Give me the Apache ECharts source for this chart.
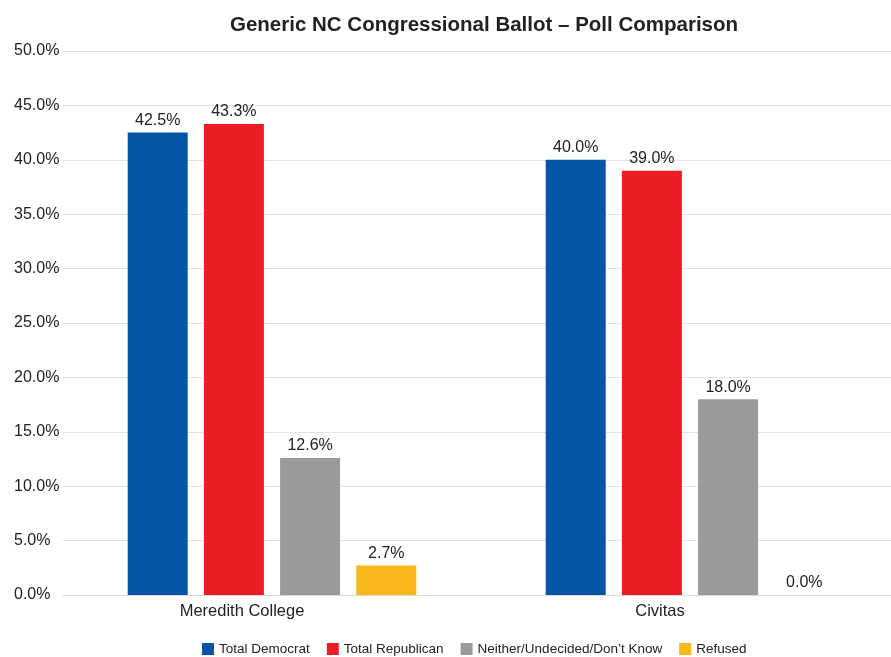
<!DOCTYPE html>
<html>
<head>
<meta charset="utf-8">
<script src="https://cdn.jsdelivr.net/npm/echarts@6/dist/echarts.min.js"></script>
<style>
  html, body { margin: 0; padding: 0; background: #fff; overflow: hidden; }
  #main { width: 900px; height: 657px; }
</style>
</head>
<body>
<div id="main"></div>
<script>
var pollsters = ['Meredith College', 'Civitas'];
var democrat = [42.5, 40.0];
var republican = [43.3, 39.0];
var undecided = [12.6, 18.0];
var refused = [2.7, 0.0];
var seriesNames = ['Total Democrat', 'Total Republican', 'Neither/Undecided/Don\u2019t Know', 'Refused'];
var colors = ['#0455a6', '#ec1c24', '#9b9a98', '#fbb81a'];

var font = 'Helvetica, "Liberation Sans", Arial, sans-serif';
var myChart = echarts.init(document.getElementById('main'));

function barSeries(name, data, color) {
    return {
        name: name,
        type: 'bar',
        data: data,
        barWidth: 60,
        barGap: '27%',
        itemStyle: { color: color },
        label: {
            show: true,
            position: 'top',
            distance: 4,
            color: '#222',
            fontSize: 16,
            fontFamily: font,
            formatter: function (p) { return p.value.toFixed(1) + '%'; }
        }
    };
}

myChart.setOption({
    animation: false,
    title: {
        text: 'Generic NC Congressional Ballot \u2013 Poll Comparison',
        left: 479,
        textAlign: 'center',
        top: 10,
        textStyle: { color: '#222', fontSize: 20.5, fontWeight: 'bold', fontFamily: font }
    },
    legend: {
        top: 637,
        left: 197,
        itemWidth: 12,
        itemHeight: 12,
        itemGap: 17,
        icon: 'rect',
        textStyle: { color: '#222', fontSize: 13.5, fontFamily: font },
        data: seriesNames
    },
    grid: { left: 63, top: 51, width: 836, bottom: 62 },
    xAxis: {
        type: 'category',
        data: pollsters,
        axisLine: { lineStyle: { color: '#d9d9d9', width: 1 } },
        axisTick: { show: false },
        axisLabel: {
            color: '#222',
            fontSize: 16.5,
            fontFamily: font,
            margin: 8,
            padding: [0, 60, 0, 0]
        }
    },
    yAxis: {
        type: 'value',
        min: 0,
        max: 50,
        interval: 5,
        axisLine: { show: false },
        axisTick: { show: false },
        splitLine: { lineStyle: { color: '#e2e2e2', width: 1 } },
        axisLabel: {
            color: '#222',
            fontSize: 16,
            fontFamily: font,
            align: 'left',
            margin: 49,
            formatter: function (v) { return v.toFixed(1) + '%'; }
        }
    },
    series: [
        barSeries(seriesNames[0], democrat, colors[0]),
        barSeries(seriesNames[1], republican, colors[1]),
        barSeries(seriesNames[2], undecided, colors[2]),
        barSeries(seriesNames[3], refused, colors[3])
    ]
});
</script>
</body>
</html>
